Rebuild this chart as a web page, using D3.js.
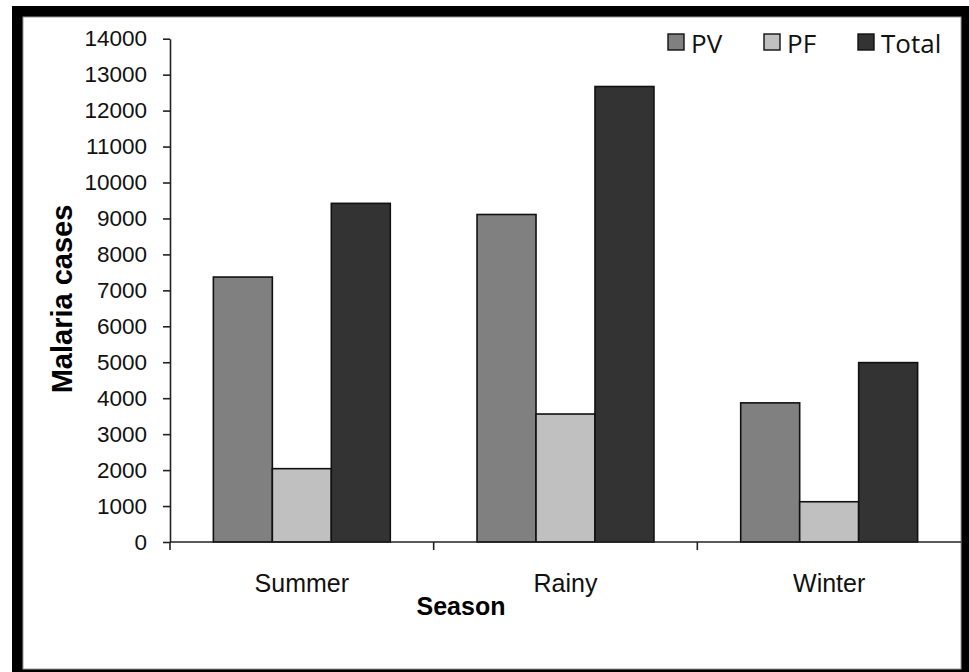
<!DOCTYPE html>
<html>
<head>
<meta charset="utf-8">
<script src="https://cdn.jsdelivr.net/npm/d3@7"></script>
<style>
  html, body { margin: 0; padding: 0; background: #fff; }
  svg { display: block; }
</style>
</head>
<body>
<svg id="chart" width="969" height="672"></svg>
<script>
// Seasonal malaria cases by parasite species
const seasons = ["Summer", "Rainy", "Winter"];
const seriesNames = ["PV", "PF", "Total"];
const pvValues = [7370, 9110, 3870];
const pfValues = [2040, 3560, 1120];
const totalValues = [9420, 12670, 4990];
const yTicks = [0, 1000, 2000, 3000, 4000, 5000, 6000, 7000, 8000, 9000, 10000, 11000, 12000, 13000, 14000];
const seriesColors = ["#808080", "#c0c0c0", "#333333"];

const seriesValues = [pvValues, pfValues, totalValues];
const rows = seasons.map((s, i) => ({
  season: s,
  values: seriesNames.map((n, j) => ({ key: n, value: seriesValues[j][i] }))
}));

const svg = d3.select("#chart");
const W = 969, H = 672;

// Frame
svg.append("rect").attr("x", 0).attr("y", 0).attr("width", W).attr("height", H).attr("fill", "#fff");
svg.append("rect").attr("x", 12).attr("y", 6).attr("width", W - 12).attr("height", H - 6).attr("fill", "#000");
svg.append("rect").attr("x", 23).attr("y", 17).attr("width", 938).attr("height", 652)
  .attr("fill", "#fff").attr("stroke", "#9a9a9a").attr("stroke-width", 1);

const plot = { left: 170, right: 961, top: 38.7, bottom: 542 };

const x0 = d3.scaleBand().domain(seasons).range([plot.left, plot.right])
  .paddingInner(0.329).paddingOuter(0.329 / 2);
const x1 = d3.scaleBand().domain(seriesNames).range([0, x0.bandwidth()]).padding(0);
const y = d3.scaleLinear().domain([0, 14000]).range([plot.bottom, plot.top]);
const color = d3.scaleOrdinal().domain(seriesNames).range(seriesColors);

// Bars
const groups = svg.append("g").selectAll("g").data(rows).join("g")
  .attr("transform", d => `translate(${x0(d.season)},0)`);
groups.selectAll("rect").data(d => d.values).join("rect")
  .attr("x", d => x1(d.key))
  .attr("y", d => y(d.value))
  .attr("width", x1.bandwidth())
  .attr("height", d => y(0) - y(d.value))
  .attr("fill", d => color(d.key))
  .attr("stroke", "#111")
  .attr("stroke-width", 1.6);

// Y axis
const yAxis = svg.append("g")
  .attr("transform", `translate(${plot.left},0)`)
  .call(d3.axisLeft(y).tickValues(yTicks).tickFormat(d3.format("d")).tickSize(7).tickPadding(16).tickSizeOuter(0));
yAxis.select(".domain").attr("stroke", "#222").attr("stroke-width", 1.6);
yAxis.selectAll(".tick line").attr("stroke", "#222").attr("stroke-width", 1.6);
yAxis.selectAll(".tick text")
  .attr("font-family", "'Liberation Sans', Arial, sans-serif")
  .attr("font-size", 22.5).attr("fill", "#111");

// X axis: ticks at category boundaries
const xAxisG = svg.append("g").attr("transform", `translate(0,${plot.bottom})`);
xAxisG.append("line")
  .attr("x1", plot.left).attr("x2", plot.right)
  .attr("y1", 0).attr("y2", 0)
  .attr("stroke", "#222").attr("stroke-width", 1.6);
const boundaries = seasons.map(s => x0(s) - x0.step() * x0.paddingOuter());
xAxisG.selectAll("line.tick").data(boundaries).join("line")
  .attr("class", "tick")
  .attr("x1", d => d).attr("x2", d => d)
  .attr("y1", 0).attr("y2", 8)
  .attr("stroke", "#222").attr("stroke-width", 1.6);
xAxisG.selectAll("text").data(seasons).join("text")
  .attr("x", d => x0(d) + x0.bandwidth() / 2)
  .attr("y", 50)
  .attr("text-anchor", "middle")
  .attr("font-family", "'Liberation Sans', Arial, sans-serif")
  .attr("font-size", 25).attr("fill", "#111")
  .text(d => d);

// Axis titles
svg.append("text")
  .attr("x", 461).attr("y", 615)
  .attr("text-anchor", "middle")
  .attr("font-family", "'Liberation Sans', Arial, sans-serif")
  .attr("font-weight", "bold").attr("font-size", 25).attr("fill", "#000")
  .text("Season");

svg.append("text")
  .attr("transform", "translate(72,299) rotate(-90)")
  .attr("text-anchor", "middle")
  .attr("font-family", "'Liberation Sans', Arial, sans-serif")
  .attr("font-weight", "bold").attr("font-size", 29).attr("fill", "#000")
  .text("Malaria cases");

// Legend
const legendX = [668, 764, 858];
const legend = svg.append("g").selectAll("g").data(seriesNames).join("g")
  .attr("transform", (d, i) => `translate(${legendX[i]},34)`);
legend.append("rect")
  .attr("width", 16).attr("height", 16)
  .attr("fill", d => color(d))
  .attr("stroke", "#111").attr("stroke-width", 1.4);
legend.append("text")
  .attr("x", 23).attr("y", 19)
  .attr("font-family", "'Open Sans', sans-serif")
  .attr("font-size", 26).attr("fill", "#111")
  .text(d => d);
</script>
</body>
</html>
